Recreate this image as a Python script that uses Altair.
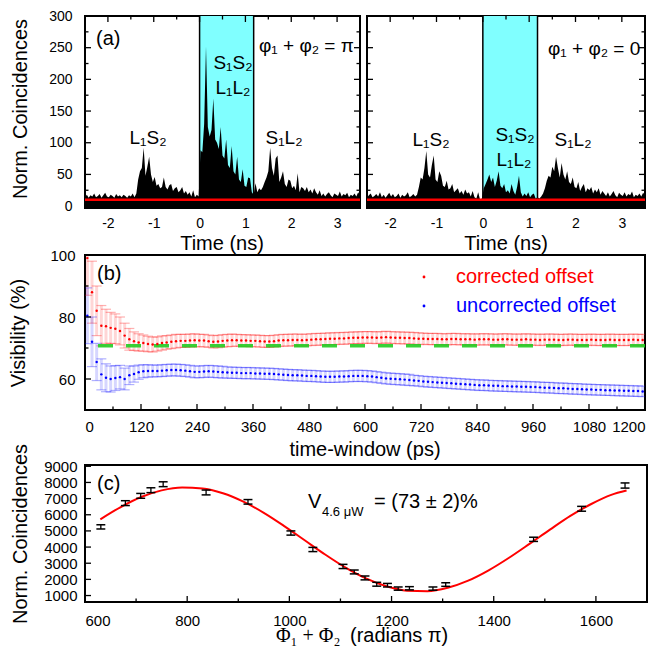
import altair as alt
import pandas as pd

FONT = "Liberation Sans"
SERIF = "Liberation Serif"

# ---------------- Panel (a): coincidence histograms ----------------
A_T_START = -2.5
A_T_STEP = 0.04
A_LEFT = [14, 18, 13, 17, 15, 20, 14, 16, 19, 13, 17, 21, 15, 14, 18, 16, 13, 19, 15, 17, 14, 18, 16, 13, 17, 15, 20, 14,
          20, 42, 55, 60, 92, 48, 62, 78, 50, 38, 46, 32, 35, 28, 30, 45, 30, 26, 33, 35, 24, 28, 30, 22, 25, 30, 20, 24, 18, 22, 15, 25, 14, 18, 15,
          88, 85, 130, 252, 125, 110, 120, 170, 105, 100, 90, 125, 80, 75, 105, 65, 60, 95, 55, 50, 78, 42, 38, 58, 32, 30, 45, 44, 22, 18,
          36, 22, 28, 25, 30, 38, 45, 55, 92, 60, 48, 75, 80, 38, 45, 55, 35, 30, 42, 40, 28, 32, 25, 52, 22, 30, 28, 24, 30, 22, 26, 20, 28, 22, 18, 25, 16, 20,
          15, 19, 22, 17, 14, 20, 18, 16, 23, 15, 19, 17, 21, 14, 18, 16, 20, 15, 22, 17]
A_RIGHT = [13, 17, 20, 14, 16, 19, 15, 22, 14, 18, 13, 17, 21, 15, 19, 14, 16, 20, 13, 18, 15, 17, 22, 14, 16, 19, 15, 18,
           30, 45, 42, 60, 87, 50, 45, 65, 80, 42, 38, 55, 48, 32, 30, 40, 26, 28, 35, 22, 25, 28, 20, 24, 18, 26, 20, 22, 15, 24, 14, 12, 22, 10, 12,
           28, 35, 42, 50, 38, 45, 30, 40, 55, 32, 28, 35, 22, 25, 20, 35, 24, 18, 30, 48, 22, 15, 20, 16, 22, 14, 18, 20, 12, 14,
           12, 15, 20, 28, 40, 48, 45, 62, 55, 78, 60, 45, 68, 50, 42, 55, 38, 35, 45, 30, 28, 38, 24, 30, 35, 22, 28, 25, 30, 20, 26, 22, 28, 18, 24, 20, 16, 22,
           15, 19, 24, 17, 14, 21, 18, 16, 22, 15, 19, 17, 23, 14, 18, 16, 20, 15, 21, 17]
A_TIME = [round(A_T_START + A_T_STEP * i, 2) for i in range(len(A_LEFT))]
A_ACCIDENTAL = [10]
A_WINDOW = [0.0, 1.18]
A_XDOM = [-2.5, 3.5]
A_YDOM = [-3, 300]
A_XTICKS = [-2, -1, 0, 1, 2, 3]
A_XMINOR = [-1.5, -0.5, 0.5, 1.5, 2.5]
A_YTICKS = [0, 50, 100, 150, 200, 250, 300]
A_YMINOR = [25, 75, 125, 175, 225, 275]

# ---------------- Panel (b): visibility vs time window ----------------
B_T = list(range(5, 1200, 10))
B_CORR = [99.0, 88.0, 82.0, 77.2, 77.0, 76.5, 76.2, 75.5, 74.0, 72.8,
          72.2, 71.8, 71.6, 71.3, 71.1, 71.3, 71.6, 71.8, 72.0, 72.2,
          72.3, 72.3, 72.4, 72.5, 72.4, 72.4, 72.2, 72.0, 72.1, 72.3,
          72.4, 72.5, 72.5, 72.4, 72.4, 72.3, 72.3, 72.2, 72.1, 72.1,
          72.2, 72.4, 72.5, 72.5, 72.6, 72.6, 72.5, 72.6, 72.7, 72.8,
          72.8, 72.9, 73.0, 73.0, 73.1, 73.1, 73.2, 73.3, 73.3, 73.4,
          73.4, 73.4, 73.3, 73.4, 73.5, 73.4, 73.3, 73.3, 73.2, 73.2,
          73.1, 73.0, 73.0, 72.9, 72.9, 72.9, 72.8, 72.8, 72.9, 72.9,
          72.8, 72.8, 72.8, 72.7, 72.8, 72.8, 72.8, 72.7, 72.7, 72.8,
          72.8, 72.7, 72.7, 72.7, 72.8, 72.7, 72.7, 72.6, 72.7, 72.7,
          72.7, 72.6, 72.6, 72.7, 72.7, 72.6, 72.6, 72.6, 72.7, 72.6,
          72.6, 72.6, 72.7, 72.6, 72.6, 72.6, 72.6, 72.7, 72.6, 72.6]
B_CORR_ERR = [12, 10, 8, 6.5, 5.5, 5, 4.8, 4.5, 4, 3.5,
              3, 2.8, 2.6, 2.5, 2.4, 2.3, 2.3, 2.2, 2.2, 2.2,
              2.1, 2.1, 2.1, 2.1, 2.0, 2.0, 2.0, 2.0, 2.0, 2.0,
              2.0, 2.0, 1.9, 1.9, 1.9, 1.9, 1.9, 1.9, 1.9, 1.9,
              1.9, 1.9, 1.9, 1.9, 1.9, 1.9, 1.9, 1.9, 1.9, 1.9,
              1.9, 1.9, 1.9, 1.9, 1.9, 1.9, 1.9, 1.9, 1.9, 1.9,
              1.9, 1.9, 1.9, 1.9, 1.9, 1.9, 1.9, 1.9, 1.9, 1.9,
              1.9, 1.9, 1.8, 1.8, 1.8, 1.8, 1.8, 1.8, 1.8, 1.8,
              1.8, 1.8, 1.8, 1.8, 1.8, 1.8, 1.8, 1.8, 1.8, 1.8,
              1.8, 1.8, 1.8, 1.8, 1.8, 1.8, 1.8, 1.8, 1.8, 1.8,
              1.8, 1.8, 1.8, 1.8, 1.8, 1.8, 1.8, 1.8, 1.8, 1.8,
              1.8, 1.8, 1.8, 1.8, 1.8, 1.8, 1.8, 1.8, 1.8, 1.8]
B_UNCORR = [80.4, 72.0, 65.5, 61.5, 60.4, 60.0, 60.3, 60.6, 60.0, 61.2,
            61.6, 62.2, 62.5, 62.6, 62.6, 62.6, 62.7, 62.8, 62.9, 62.9,
            62.8, 62.7, 62.5, 62.3, 62.3, 62.4, 62.5, 62.4, 62.3, 62.2,
            62.1, 62.0, 62.0, 61.9, 61.9, 61.9, 61.8, 61.8, 61.7, 61.7,
            61.6, 61.5, 61.4, 61.3, 61.2, 61.2, 61.1, 61.0, 61.0, 60.9,
            60.8, 60.7, 60.7, 60.7, 60.8, 60.8, 60.9, 61.0, 61.0, 61.0,
            60.9, 60.8, 60.6, 60.4, 60.2, 60.1, 60.0, 59.9, 59.8, 59.7,
            59.5, 59.4, 59.2, 59.1, 59.0, 58.9, 58.8, 58.7, 58.6, 58.5,
            58.4, 58.3, 58.2, 58.1, 58.0, 58.0, 57.9, 57.8, 57.8, 57.7,
            57.7, 57.6, 57.6, 57.5, 57.5, 57.4, 57.4, 57.3, 57.2, 57.2,
            57.1, 57.0, 57.0, 56.9, 56.8, 56.8, 56.7, 56.6, 56.6, 56.5,
            56.5, 56.4, 56.4, 56.3, 56.3, 56.2, 56.2, 56.1, 56.1, 56.0]
B_UNCORR_ERR = [9, 8, 6, 5, 4.5, 4.2, 4, 3.8, 3.5, 3,
                2.6, 2.3, 2.1, 2.0, 1.9, 1.9, 1.9, 1.9, 1.9, 1.9,
                1.9, 1.9, 1.9, 1.9, 1.9, 1.9, 1.9, 1.9, 1.9, 1.9,
                1.8, 1.8, 1.8, 1.8, 1.8, 1.8, 1.8, 1.8, 1.8, 1.8,
                1.8, 1.8, 1.8, 1.8, 1.8, 1.8, 1.8, 1.8, 1.8, 1.8,
                1.8, 1.8, 1.8, 1.8, 1.8, 1.8, 1.8, 1.8, 1.8, 1.8,
                1.8, 1.8, 1.8, 1.8, 1.8, 1.8, 1.8, 1.8, 1.8, 1.8,
                1.7, 1.7, 1.7, 1.7, 1.7, 1.7, 1.7, 1.7, 1.7, 1.7,
                1.7, 1.7, 1.7, 1.7, 1.7, 1.7, 1.7, 1.7, 1.7, 1.7,
                1.7, 1.7, 1.7, 1.7, 1.7, 1.7, 1.7, 1.7, 1.7, 1.7,
                1.7, 1.7, 1.7, 1.7, 1.7, 1.7, 1.7, 1.7, 1.7, 1.7,
                1.7, 1.7, 1.7, 1.7, 1.7, 1.7, 1.7, 1.7, 1.7, 1.7]
B_LIMIT = [70.7]
B_XDOM = [0, 1200]
B_YDOM = [50, 100]
B_XTICKS = [0, 120, 240, 360, 480, 600, 720, 840, 960, 1080, 1200]
B_XMINOR = [60, 180, 300, 420, 540, 660, 780, 900, 1020, 1140]
B_YTICKS = [60, 80, 100]
B_YMINOR = [70, 90]

# ---------------- Panel (c): phase scan ----------------
C_PHASE = [631, 679, 709, 729, 753, 837, 919, 1003, 1046, 1105, 1127, 1148, 1171, 1192, 1213, 1235, 1281, 1306, 1478, 1572, 1657]
C_COUNTS = [5250, 6720, 7170, 7520, 7890, 7380, 6800, 4870, 3850, 2800, 2460, 2090, 1700, 1640, 1430, 1450, 1430, 1680, 4480, 6370, 7810]
C_ERR = [130, 150, 150, 150, 150, 150, 140, 130, 130, 130, 120, 120, 120, 110, 100, 100, 100, 110, 130, 150, 160]
C_FIT_X = [630, 670, 710, 750, 790, 830, 870, 910, 950, 990, 1030, 1070, 1110, 1150, 1190, 1230, 1270, 1310,
           1350, 1390, 1430, 1470, 1510, 1550, 1590, 1630, 1660]
C_FIT_Y = [5720, 6480, 7100, 7510, 7690, 7630, 7330, 6810, 6120, 5300, 4420, 3540, 2730, 2060, 1570, 1300, 1270, 1480,
           1920, 2560, 3340, 4200, 5080, 5930, 6650, 7230, 7500]
C_XDOM = [600, 1700]
C_YDOM = [600, 9080]
C_XTICKS = [600, 800, 1000, 1200, 1400, 1600]
C_XMINOR = [700, 900, 1100, 1300, 1500]
C_YTICKS = [1000, 2000, 3000, 4000, 5000, 6000, 7000, 8000, 9000]
C_YMINOR = []


def scale(dom):
    return alt.Scale(domain=dom, nice=False, zero=False)


def lab_axis(values, size, pad, fmt=None, expr=None):
    kw = dict(values=values, labelFontSize=size, labelFont=FONT, labelPadding=pad, labelColor="black",
              ticks=False, tickSize=0, domain=False, grid=False, labelOverlap=False)
    if fmt:
        kw["format"] = fmt
    if expr:
        kw["labelExpr"] = expr
    return alt.Axis(**kw)


def mk_x(dom, axis):
    return lambda f: alt.X(f, type="quantitative", scale=scale(dom), axis=axis, title=None)


def mk_y(dom, axis):
    return lambda f: alt.Y(f, type="quantitative", scale=scale(dom), axis=axis, title=None)


def text(s, x, y, size=20, color="black", align="left", font=FONT, angle=0):
    return alt.Chart(alt.Data(values=[{"s": s}])).mark_text(
        fontSize=size, color=color, align=align, baseline="middle", font=font, angle=angle
    ).encode(x=alt.value(x), y=alt.value(y), text="s:N")


def ticks(X, Y, W, H, xmaj, xmin, ymaj, ymin, mirror):
    out = []
    for vals, L in ((xmaj, 6), (xmin, 3.5)):
        if not vals:
            continue
        d = alt.Data(values=[{"v": v} for v in vals])
        out.append(alt.Chart(d).mark_rule(color="black", strokeWidth=1.3).encode(
            x=X("v"), y=alt.value(H), y2=alt.value(H - L)))
        if mirror:
            out.append(alt.Chart(d).mark_rule(color="black", strokeWidth=1.3).encode(
                x=X("v"), y=alt.value(0), y2=alt.value(L)))
    for vals, L in ((ymaj, 6), (ymin, 3.5)):
        if not vals:
            continue
        d = alt.Data(values=[{"v": v} for v in vals])
        out.append(alt.Chart(d).mark_rule(color="black", strokeWidth=1.3).encode(
            y=Y("v"), x=alt.value(0), x2=alt.value(L)))
        if mirror:
            out.append(alt.Chart(d).mark_rule(color="black", strokeWidth=1.3).encode(
                y=Y("v"), x=alt.value(W), x2=alt.value(W - L)))
    return out


def panel_a(counts, left, W, H):
    xax = lab_axis(A_XTICKS, 14, 8, expr="'' + datum.value")
    yax = lab_axis(A_YTICKS, 14, 13) if left else None
    X = mk_x(A_XDOM, xax)
    Y = mk_y(A_YDOM, yax)
    df = pd.DataFrame({"t": A_TIME, "c": counts})
    win = pd.DataFrame({"s": [A_WINDOW[0]], "e": [A_WINDOW[1]]})
    layers = [
        alt.Chart(win).mark_rect(color="#80ffff").encode(x=X("s"), x2="e", y=alt.value(0), y2=alt.value(H)),
        alt.Chart(df).mark_area(color="black", interpolate="linear").encode(x=X("t"), y=Y("c"), y2=alt.datum(-3)),
        alt.Chart(pd.DataFrame({"v": A_WINDOW})).mark_rule(color="black", strokeWidth=1.5).encode(
            x=X("v"), y=alt.value(0), y2=alt.value(H)),
        alt.Chart(pd.DataFrame({"r": A_ACCIDENTAL})).mark_rule(color="#ff0000", strokeWidth=2.5).encode(
            y=Y("r"), x=alt.value(0), x2=alt.value(W)),
    ]
    layers += ticks(X, Y, W, H, A_XTICKS, A_XMINOR, A_YTICKS, A_YMINOR, True)
    if left:
        layers += [
            text("(a)", 11, 23),
            text("φ₁ + φ₂ = π", 174, 30, size=19),
            text("S₁S₂", 148, 47, size=19, align="center"),
            text("L₁L₂", 148, 72, size=19, align="center"),
            text("L₁S₂", 63, 122, size=19, align="center"),
            text("S₁L₂", 199, 122, size=19, align="center"),
            text("Norm. Coincidences", -64, 93, size=20, align="center", angle=270),
            text("Time (ns)", 137, 228, size=20, align="center"),
        ]
    else:
        layers += [
            text("φ₁ + φ₂ = 0", 181, 33, size=19),
            text("L₁S₂", 64, 124, size=19, align="center"),
            text("S₁S₂", 148, 119, size=19, align="center"),
            text("L₁L₂", 147, 144, size=19, align="center"),
            text("S₁L₂", 206, 124, size=19, align="center"),
            text("Time (ns)", 139, 228, size=20, align="center"),
        ]
    return alt.layer(*layers).properties(width=W, height=H)


def panel_b(W, H):
    X = mk_x(B_XDOM, lab_axis(B_XTICKS, 15, 9, fmt="d"))
    Y = mk_y(B_YDOM, lab_axis(B_YTICKS, 15, 10, fmt="d"))
    df = pd.DataFrame({"t": B_T, "r": B_CORR, "re": B_CORR_ERR, "u": B_UNCORR, "ue": B_UNCORR_ERR})
    df["rlo"] = df["r"] - df["re"]
    df["rhi"] = df["r"] + df["re"]
    df["ulo"] = df["u"] - df["ue"]
    df["uhi"] = df["u"] + df["ue"]
    base = alt.Chart(df)
    cap = "M-1,0L1,0"
    layers = []
    for lo, hi, col in (("rlo", "rhi", "#ff0000"), ("ulo", "uhi", "#0000ff")):
        layers.append(base.mark_rule(color=col, opacity=0.16, strokeWidth=3, clip=True).encode(x=X("t"), y=Y(lo), y2=hi))
        layers.append(base.mark_point(shape=cap, size=100, color=col, opacity=0.3, strokeWidth=1.2, filled=False, clip=True).encode(x=X("t"), y=Y(lo)))
        layers.append(base.mark_point(shape=cap, size=100, color=col, opacity=0.3, strokeWidth=1.2, filled=False, clip=True).encode(x=X("t"), y=Y(hi)))
    layers.append(alt.Chart(pd.DataFrame({"g": B_LIMIT})).mark_rule(color="#22cc22", strokeWidth=3.5, opacity=0.9, strokeDash=[15, 13]).encode(y=Y("g")))
    layers.append(base.mark_circle(size=6, color="#ff0000", opacity=1).encode(x=X("t"), y=Y("r")))
    layers.append(base.mark_circle(size=6, color="#0000ff", opacity=1).encode(x=X("t"), y=Y("u")))
    layers += ticks(X, Y, W, H, B_XTICKS, B_XMINOR, B_YTICKS, B_YMINOR, False)
    dot = lambda col, y: alt.Chart(alt.Data(values=[{}])).mark_circle(size=8, color=col, opacity=1).encode(
        x=alt.value(339), y=alt.value(y))
    layers += [
        text("(b)", 12, 19),
        dot("#ff0000", 22),
        text("corrected offset", 371, 22, color="#ff0000"),
        dot("#0000ff", 51),
        text("uncorrected offset", 371, 51, color="#0000ff"),
        text("Visibility (%)", -66, 78, size=20, align="center", angle=270),
        text("time-window (ps)", 280, 195, size=20, align="center"),
    ]
    return alt.layer(*layers).properties(width=W, height=H)


def panel_c(W, H):
    X = mk_x(C_XDOM, lab_axis(C_XTICKS, 15, 11, fmt="d"))
    Y = mk_y(C_YDOM, lab_axis(C_YTICKS, 15, 8, fmt="d"))
    df = pd.DataFrame({"p": C_PHASE, "n": C_COUNTS, "e": C_ERR})
    df["lo"] = df["n"] - df["e"]
    df["hi"] = df["n"] + df["e"]
    fit = pd.DataFrame({"x": C_FIT_X, "y": C_FIT_Y})
    base = alt.Chart(df)
    cap = "M-1,0L1,0"
    layers = [
        alt.Chart(fit).mark_line(color="#ff0000", strokeWidth=2, interpolate="monotone").encode(x=X("x"), y=Y("y")),
        base.mark_rule(color="black", strokeWidth=1.3).encode(x=X("p"), y=Y("lo"), y2="hi"),
        base.mark_point(shape=cap, size=80, color="black", strokeWidth=1.5, opacity=1, filled=False).encode(x=X("p"), y=Y("lo")),
        base.mark_point(shape=cap, size=80, color="black", strokeWidth=1.5, opacity=1, filled=False).encode(x=X("p"), y=Y("hi")),
    ]
    layers += ticks(X, Y, W, H, C_XTICKS, C_XMINOR, C_YTICKS, C_YMINOR, False)
    layers += [
        text("(c)", 12, 19),
        text("V", 223, 37, size=20),
        text("4.6 μW", 237, 47, size=13),
        text("= (73 ± 2)%", 289, 37, size=20),
        text("Norm. Coincidences", -64, 69, size=20, align="center", angle=270),
        text("Φ₁ + Φ₂", 191, 171, size=20, font=SERIF),
        text("(radians π)", 265, 171, size=20),
    ]
    return alt.layer(*layers).properties(width=W, height=H)


row_a = alt.hconcat(panel_a(A_LEFT, True, 275, 192), panel_a(A_RIGHT, False, 278, 192), spacing=7, bounds="flush")
rows_bc = alt.vconcat(panel_b(560, 155), panel_c(562, 137), spacing=55, bounds="flush")
chart = alt.vconcat(row_a, rows_bc, spacing=-8, bounds="full").properties(
    padding={"left": 0, "top": 0, "right": 0, "bottom": 0}
).configure(font=FONT).configure_view(stroke="black", strokeWidth=2)

chart.save("out.html", embed_options={"renderer": "svg", "actions": False})
